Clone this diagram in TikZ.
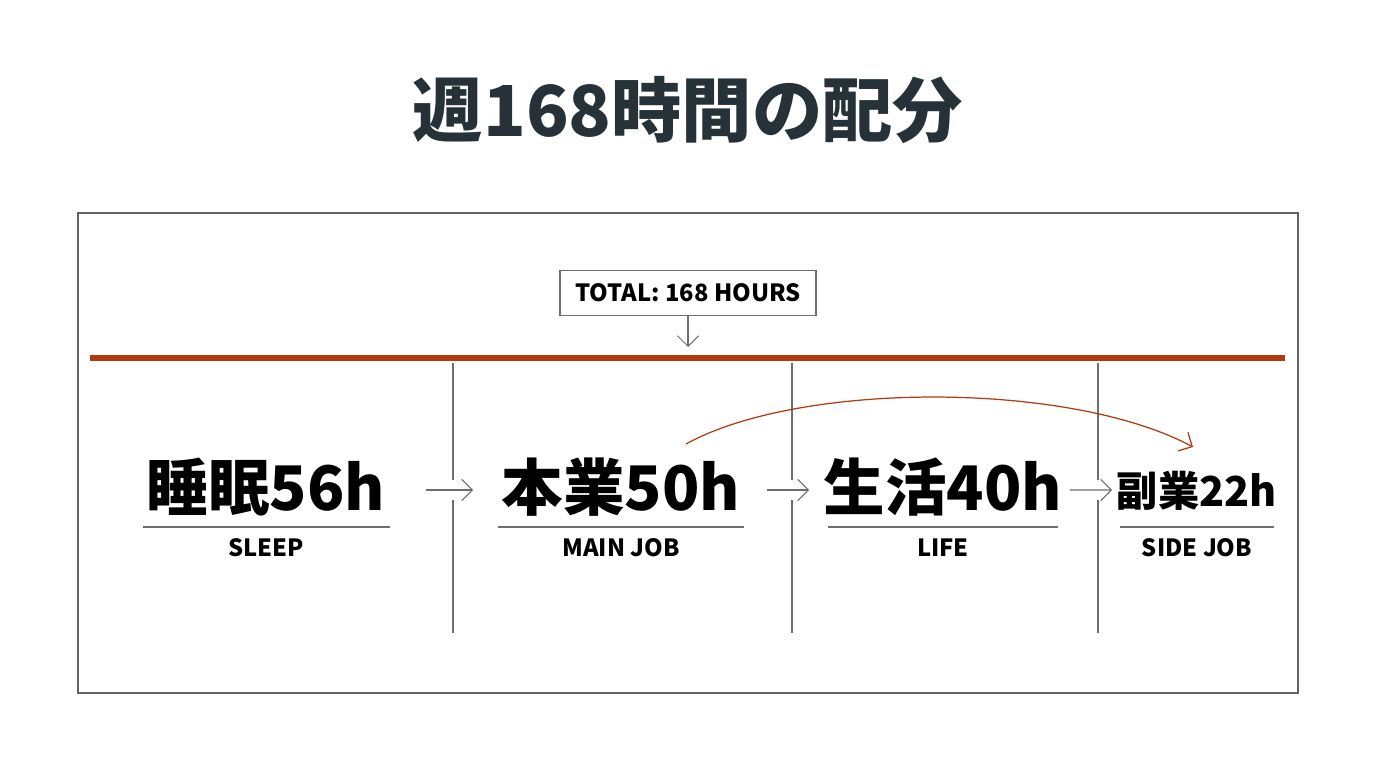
\documentclass[tikz,border=0pt]{standalone}
\usepackage{fontspec}
\setmainfont{Noto Sans CJK JP}
\usetikzlibrary{arrows.meta}
\definecolor{rust}{RGB}{178,58,14}
\definecolor{ink}{RGB}{38,50,56}
\definecolor{rule}{RGB}{110,110,110}
\tikzset{
  bignum/.style={font=\fontsize{35}{40}\selectfont\bfseries, inner sep=0pt},
  smallnum/.style={font=\fontsize{23.5}{28}\selectfont\bfseries, inner sep=0pt},
  enlabel/.style={font=\fontsize{13.5}{16}\selectfont\bfseries, inner sep=0pt},
  flow/.style={draw=rule, line width=.6pt, -{Straight Barb[length=6pt,width=12pt]}},
}
\begin{document}
\begin{tikzpicture}[x=0.02cm,y=-0.02cm]
\fill[white] (0,0) rectangle (1376,768);
\useasboundingbox (0,0) rectangle (1376,768);
\node[font=\fontsize{40}{44}\selectfont\bfseries, text=ink] (title) at (688,110) {週168時間の配分};
\draw[rule!90!black, line width=.8pt] (78,213) rectangle (1298,693);
\node[draw=rule, line width=.7pt, enlabel, minimum width=5.12cm, minimum height=0.9cm] (total) at (688,293) {TOTAL: 168 HOURS};
\draw[rust, line width=3.4pt] (90,358) -- (1285,358);
\coordinate (timeline) at (688,347);
\draw[flow] (total.south) -- (timeline);
\draw[rule, line width=.7pt] (453,363) -- (453,480) (453,500) -- (453,633);
\draw[rule, line width=.7pt] (792,363) -- (792,480) (792,500) -- (792,633);
\draw[rule, line width=.7pt] (1098,363) -- (1098,480) (1098,500) -- (1098,633);
\node[bignum] (sleep) at (266,487) {睡眠56h};
\node[bignum] (mainjob) at (621,487) {本業50h};
\node[bignum] (life) at (943,487) {生活40h};
\node[smallnum] (sidejob) at (1197,491) {副業22h};
\draw[rule, line width=.7pt] (143,527) -- (390,527);
\draw[rule, line width=.7pt] (498,527) -- (744,527);
\draw[rule, line width=.7pt] (828,527) -- (1058,527);
\draw[rule, line width=.7pt] (1120,527) -- (1274,527);
\node[enlabel] (sleepen) at (266,548) {SLEEP};
\node[enlabel] (mainjoben) at (621,548) {MAIN JOB};
\node[enlabel] (lifeen) at (943,548) {LIFE};
\node[enlabel] (sidejoben) at (1197,548) {SIDE JOB};
\draw[flow] ([shift={(3.2cm,-0.06cm)}]sleep.center) -- ([shift={(-2.96cm,-0.06cm)}]mainjob.center);
\draw[flow] ([shift={(2.92cm,-0.06cm)}]mainjob.center) -- ([shift={(-2.68cm,-0.06cm)}]life.center);
\draw[flow] ([shift={(2.54cm,-0.06cm)}]life.center) -- ([shift={(-1.7cm,0.02cm)}]sidejob.center);
\coordinate (jumpa) at (686,444);
\coordinate (jumpb) at (1193,447);
\draw[rust, line width=.7pt, -{Straight Barb[length=6pt,width=12pt]}] (jumpa) .. controls (800,381) and (1070,381) .. (jumpb);
\end{tikzpicture}
\end{document}
